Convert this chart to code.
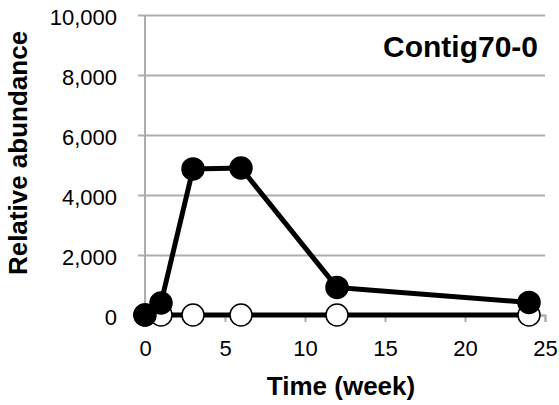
<!DOCTYPE html>
<html>
<head>
<meta charset="utf-8">
<script src="https://cdn.jsdelivr.net/npm/d3@7"></script>
<style>
  body { margin: 0; background: #fff; }
  svg { display: block; font-family: 'Liberation Sans', Arial, sans-serif; }
</style>
</head>
<body>
<svg class="chart"></svg>
<script>
//Chart data
const weeks = [0, 1, 3, 6, 12, 24];
const filledValues = [0, 400, 4870, 4900, 920, 420];
const openValues = [0, 0, 0, 0, 0, 0];
const xTicks = [0, 5, 10, 15, 20, 25];
const yTicks = [0, 2000, 4000, 6000, 8000, 10000];
const chartTitle = 'Contig70-0';

const width = 559;
const height = 405;
const margin = { top: 15, right: 14, bottom: 90, left: 145 };

const svg = d3
  .select('.chart')
  .attr('width', width)
  .attr('height', height);

const x = d3
  .scaleLinear()
  .domain([0, 25])
  .range([margin.left, width - margin.right]);
const y = d3
  .scaleLinear()
  .domain([0, 10000])
  .range([height - margin.bottom, margin.top]);

const gridColor = '#adadad';
const format = d3.format(',');

//Horizontal gridlines with tick labels
const yAxis = svg
  .append('g')
  .attr('transform', `translate(${margin.left},0)`)
  .call(
    d3
      .axisLeft(y)
      .tickValues(yTicks)
      .tickSize(7)
      .tickPadding(21)
      .tickFormat(format)
  );
yAxis.select('.domain').remove();
yAxis.selectAll('.tick line').attr('stroke', gridColor).attr('stroke-width', 2);
yAxis
  .selectAll('.tick')
  .append('line')
  .attr('x1', 0)
  .attr('x2', x(25) - margin.left)
  .attr('stroke', gridColor)
  .attr('stroke-width', 2);
yAxis
  .selectAll('text')
  .attr('font-size', 22)
  .attr('fill', '#000')
  .attr('font-family', 'Liberation Sans, Arial, sans-serif')
  .attr('dy', '0.45em');

//Vertical axis line
svg
  .append('line')
  .attr('x1', x(0))
  .attr('x2', x(0))
  .attr('y1', y(10000))
  .attr('y2', y(0))
  .attr('stroke', gridColor)
  .attr('stroke-width', 2);

//Bottom axis
const xAxis = svg
  .append('g')
  .attr('transform', `translate(0,${y(0)})`)
  .call(
    d3
      .axisBottom(x)
      .tickValues(xTicks)
      .tickSize(7)
      .tickPadding(18)
  );
xAxis.select('.domain').attr('stroke', gridColor).attr('stroke-width', 2);
xAxis.selectAll('.tick line').attr('stroke', gridColor).attr('stroke-width', 2);
xAxis
  .selectAll('text')
  .attr('font-size', 22)
  .attr('fill', '#000')
  .attr('font-family', 'Liberation Sans, Arial, sans-serif');

//Series
const line = d3
  .line()
  .x((d, i) => x(weeks[i]))
  .y(d => y(d));

function drawSeries(values, fill) {
  svg
    .append('path')
    .datum(values)
    .attr('d', line)
    .attr('fill', 'none')
    .attr('stroke', '#000')
    .attr('stroke-width', 5)
    .attr('stroke-linejoin', 'round');
  svg
    .append('g')
    .selectAll('circle')
    .data(values)
    .enter()
    .append('circle')
    .attr('cx', (d, i) => x(weeks[i]))
    .attr('cy', d => y(d))
    .attr('r', 11)
    .attr('fill', fill)
    .attr('stroke', '#000')
    .attr('stroke-width', 1.5);
}

drawSeries(openValues, '#fff');
drawSeries(filledValues, '#000');

//Titles
svg
  .append('text')
  .attr('x', 538)
  .attr('y', 57)
  .attr('text-anchor', 'end')
  .attr('font-size', 30)
  .attr('font-weight', 'bold')
  .text(chartTitle);

svg
  .append('text')
  .attr('x', 341)
  .attr('y', 395)
  .attr('text-anchor', 'middle')
  .attr('font-size', 26)
  .attr('font-weight', 'bold')
  .text('Time (week)');

svg
  .append('text')
  .attr('transform', `translate(27,${153}) rotate(-90)`)
  .attr('text-anchor', 'middle')
  .attr('font-size', 26)
  .attr('font-weight', 'bold')
  .text('Relative abundance');
</script>
</body>
</html>
